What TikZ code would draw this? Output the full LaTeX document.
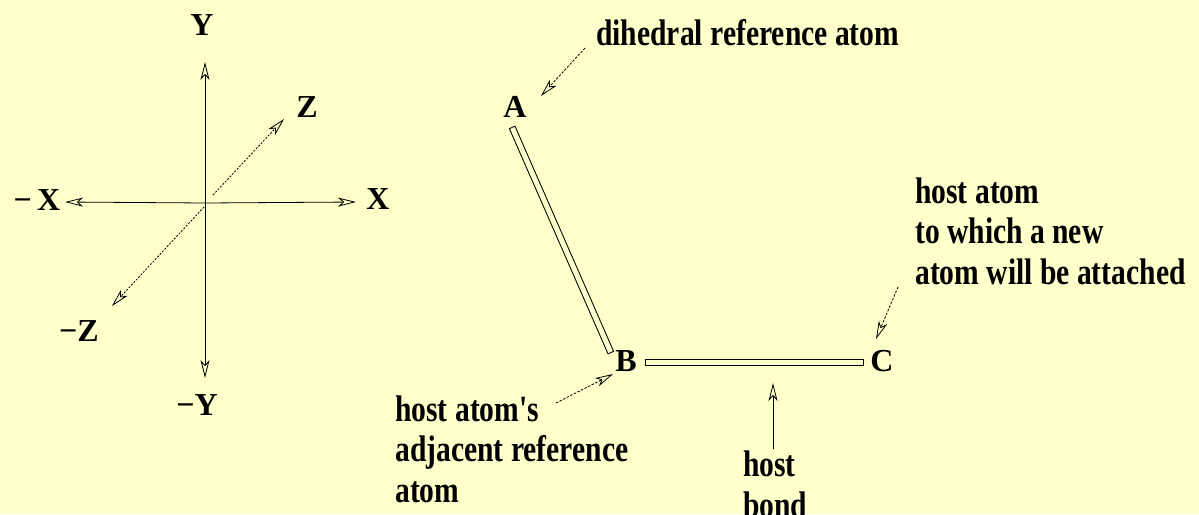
\documentclass[tikz,border=0pt]{standalone}
\usepackage{fontspec}
\setmainfont{Liberation Serif}
\newfontfamily\condfont[FakeStretch=0.8]{Liberation Serif}
\usetikzlibrary{arrows.meta}
\definecolor{bgyellow}{HTML}{FFFFCC}
\begin{document}
\begin{tikzpicture}[x=1pt,y=-1pt,
  lbl/.style={font=\fontsize{32}{32}\selectfont\bfseries, inner sep=0pt},
  txt/.style={font=\condfont\bfseries\fontsize{37}{40.5}\selectfont, inner sep=0pt, align=left, anchor=base west},
  tip/.style={-{Stealth[open,length=18pt,width=9pt,inset=5pt]}},
  ax/.style={line width=0.8pt, tip},
  zax/.style={line width=0.8pt, dash pattern=on 2pt off 1.5pt, tip},
  call/.style={line width=0.8pt, dash pattern=on 2.5pt off 1.5pt, tip},
  bondout/.style={line width=7pt, black},
  bondin/.style={line width=5pt, bgyellow, shorten <=1pt, shorten >=1pt}]
\fill[bgyellow] (0,0) rectangle (1199,514);
\useasboundingbox (0,0) rectangle (1199,514);

% axes
\coordinate (O) at (205,203);
\node[lbl] (Y) at (202,25) {Y};
\node[lbl] (mY) at (197,405) {−Y};
\node[lbl] (X) at (378,199) {X};
\node[lbl] (mX) at (37,200) {−\,X};
\node[lbl] (Z) at (307,107) {Z};
\node[lbl] (mZ) at (79,331) {−Z};
\coordinate (ytop) at (205,62);
\coordinate (ybot) at (205,378);
\coordinate (xl) at (65,202);
\coordinate (xr) at (356,202);
\coordinate (z0) at (213,195);
\coordinate (z1) at (284,119);
\coordinate (mz0) at (204,207);
\coordinate (mz1) at (112,306);
\draw[ax] (O) -- (ytop);
\draw[ax] (O) -- (ybot);
\draw[ax] (O) -- (xl);
\draw[ax] (O) -- (xr);
\draw[zax] (z0) -- (z1);
\draw[zax] (mz0) -- (mz1);

% atoms
\node[lbl] (A) at (515,107) {A};
\node[lbl] (B) at (626,361) {B};
\node[lbl] (C) at (882,361) {C};
\coordinate (ab1) at (512,127);
\coordinate (ab2) at (611,353);
\coordinate (bc1) at (645,362);
\coordinate (bc2) at (864,362);
\draw[bondout] (ab1) -- (ab2);
\draw[bondin] (ab1) -- (ab2);
\draw[bondout] (bc1) -- (bc2);
\draw[bondin] (bc1) -- (bc2);

% texts (base west = baseline of last line)
\node[txt] (tdih) at (596,45) {dihedral reference atom};
\node[txt] (thost) at (915,284) {host atom\\to which a new\\atom will be attached};
\node[txt] (tadj) at (395,502) {host atom's\\adjacent reference\\atom};
\node[txt] (tbond) at (743,517) {host\\bond};

% callouts
\coordinate (c1) at (585,48);
\coordinate (c1t) at (541,96);
\coordinate (c2) at (898,287);
\coordinate (c2t) at (876,339);
\coordinate (c3) at (556,403);
\coordinate (c3t) at (613,374);
\coordinate (c4) at (773,449);
\coordinate (c4t) at (773,383);
\draw[call] (c1) -- (c1t);
\draw[call] (c2) -- (c2t);
\draw[call] (c3) -- (c3t);
\draw[ax] (c4) -- (c4t);
\end{tikzpicture}
\end{document}
